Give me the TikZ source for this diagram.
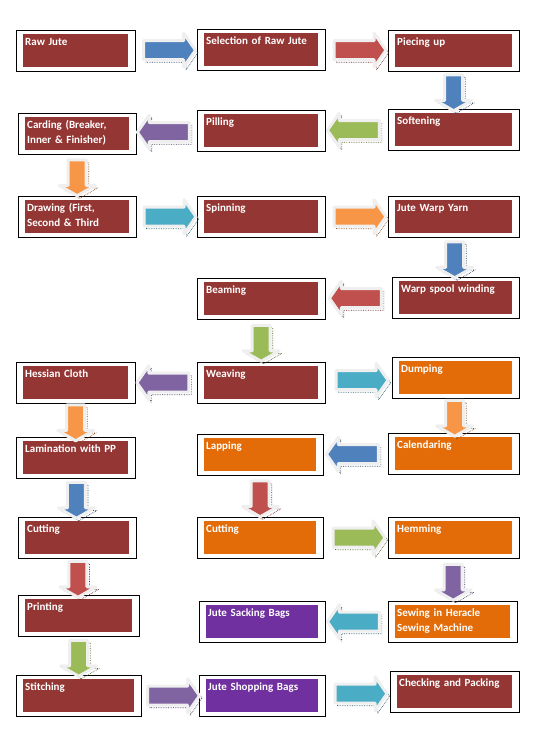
\documentclass[tikz,border=0pt]{standalone}
\usepackage{fontspec}
\setmainfont{Carlito}
\usepackage{tikz}
\usetikzlibrary{shapes.arrows,shadows,fit,calc}

\definecolor{boxred}{HTML}{943634}
\definecolor{boxorange}{HTML}{E36C09}
\definecolor{boxpurple}{HTML}{7030A0}
\definecolor{arblue}{HTML}{4F81BD}
\definecolor{arred}{HTML}{C0504D}
\definecolor{argreen}{HTML}{9BBB59}
\definecolor{arpurple}{HTML}{8064A2}
\definecolor{arcyan}{HTML}{4BACC6}
\definecolor{arorange}{HTML}{F79646}
\definecolor{glow}{HTML}{EFEFEF}

\begin{document}
\begin{tikzpicture}[x=1pt, y=-1pt,
    stage/.style={anchor=north west, fill=#1, text=white, align=left,
      font=\bfseries\fontsize{11}{15}\selectfont, inner xsep=2pt, inner ysep=2pt,
      text height=9pt, text depth=20pt},
    frame/.style={draw=black, line width=0.8pt, inner xsep=6.5pt, inner ysep=4pt},
    flow/.style={single arrow, draw=glow, line width=3pt, line join=round, fill=#1,
      general shadow={shadow xshift=2.5pt, shadow yshift=-2.5pt, draw=#1!55!black,
        densely dotted, line width=0.7pt}},
    rflow/.style={flow=#1, inner sep=8pt, minimum height=52pt,
      single arrow head extend=7.5pt, single arrow tip angle=110},
    lflow/.style={rflow=#1, shape border rotate=180},
    dflow/.style={flow=#1, inner sep=7.5pt, minimum height=36pt,
      single arrow head extend=9pt, single arrow tip angle=120,
      shape border rotate=270}]
  \useasboundingbox (0,0) rectangle (541,751);

  \node[stage=boxred, text width=101pt] (raw) at (23,34) {Raw Jute};
  \node[stage=boxred, text width=110pt] (sel) at (204,33) {Selection of Raw Jute};
  \node[stage=boxred, text width=113pt] (piece) at (395,34) {Piecing up};
  \node[stage=boxred, text width=113pt] (soft) at (395,113) {Softening};
  \node[stage=boxred, text width=110pt] (pill) at (204,114) {Pilling};
  \node[stage=boxred, text width=100pt] (card) at (25,117) {Carding (Breaker,\\Inner \& Finisher)};
  \node[stage=boxred, text width=100pt] (drw) at (25,200) {Drawing (First,\\Second \& Third};
  \node[stage=boxred, text width=110pt] (spin) at (204,200) {Spinning};
  \node[stage=boxred, text width=113pt] (warp) at (395,200) {Jute Warp Yarn};
  \node[stage=boxred, text width=109pt] (spool) at (399,281) {Warp spool winding};
  \node[stage=boxred, text width=110pt] (beam) at (204,282) {Beaming};
  \node[stage=boxred, text width=110pt] (weave) at (204,366) {Weaving};
  \node[stage=boxred, text width=101pt] (hess) at (23,366) {Hessian Cloth};
  \node[stage=boxorange, text width=109pt] (dump) at (399,361) {Dumping};
  \node[stage=boxorange, text width=113pt] (cal) at (395,437) {Calendaring};
  \node[stage=boxorange, text width=108pt] (lap) at (204,438) {Lapping};
  \node[stage=boxred, text width=101pt] (lam) at (23,441) {Lamination with PP};
  \node[stage=boxred, text width=100pt] (cutl) at (25,521) {Cutting};
  \node[stage=boxorange, text width=108pt] (cutm) at (204,521) {Cutting};
  \node[stage=boxorange, text width=113pt] (hem) at (395,521) {Hemming};
  \node[stage=boxorange, text width=111pt] (sew) at (395,605) {Sewing in Heracle\\Sewing Machine};
  \node[stage=boxpurple, text width=108pt] (sack) at (206,605) {Jute Sacking Bags};
  \node[stage=boxred, text width=103pt] (print) at (25,599) {Printing};
  \node[stage=boxred, text width=107pt] (stitch) at (23,679) {Stitching};
  \node[stage=boxpurple, text width=108pt] (shop) at (206,679) {Jute Shopping Bags};
  \node[stage=boxred, text width=111pt] (check) at (397,675) {Checking and Packing};

  \foreach \n in {raw,sel,piece,soft,pill,card,drw,spin,warp,spool,beam,weave,hess,
      dump,cal,lap,lam,cutl,cutm,hem,sew,sack,print,stitch,shop,check}
    \node[frame, fit=(\n)] (\n-f) {};

  \node[rflow=arblue] (a1) at ($(raw-f.east)!.5!(sel-f.west)$) {};
  \node[rflow=arred] (a2) at ($(sel-f.east)!.5!(piece-f.west)$) {};
  \node[dflow=arblue] (a3) at ($(piece-f.south)!.5!(soft-f.north)$) {};
  \node[lflow=argreen] (a4) at ($(soft-f.west)!.5!(pill-f.east)$) {};
  \node[lflow=arpurple] (a5) at ($(pill-f.west)!.5!(card-f.east)$) {};
  \node[dflow=arorange] (a6) at ($(card-f.south)!.5!(drw-f.north)$) {};
  \node[rflow=arcyan] (a7) at ($(drw-f.east)!.5!(spin-f.west)$) {};
  \node[rflow=arorange] (a8) at ($(spin-f.east)!.5!(warp-f.west)$) {};
  \node[dflow=arblue] (a9) at ($(warp-f.south)!.5!(spool-f.north)$) {};
  \node[lflow=arred] (a10) at ($(spool-f.west)!.5!(beam-f.east)$) {};
  \node[dflow=argreen] (a11) at ($(beam-f.south)!.5!(weave-f.north)$) {};
  \node[lflow=arpurple] (a12) at ($(weave-f.west)!.5!(hess-f.east)$) {};
  \node[rflow=arcyan] (a13) at ($(weave-f.east)!.5!(dump-f.west)$) {};
  \node[dflow=arorange] (a14) at ($(hess-f.south)!.5!(lam-f.north)$) {};
  \node[dflow=arorange] (a15) at ($(dump-f.south)!.5!(cal-f.north)$) {};
  \node[lflow=arblue] (a16) at ($(cal-f.west)!.5!(lap-f.east)$) {};
  \node[dflow=arblue] (a17) at ($(lam-f.south)!.5!(cutl-f.north)$) {};
  \node[dflow=arred] (a18) at ($(lap-f.south)!.5!(cutm-f.north)$) {};
  \node[rflow=argreen] (a19) at ($(cutm-f.east)!.5!(hem-f.west)$) {};
  \node[dflow=arred] (a20) at ($(cutl-f.south)!.5!(print-f.north)$) {};
  \node[dflow=arpurple] (a21) at ($(hem-f.south)!.5!(sew-f.north)$) {};
  \node[lflow=arcyan] (a22) at ($(sew-f.west)!.5!(sack-f.east)$) {};
  \node[dflow=argreen] (a23) at ($(print-f.south)!.5!(stitch-f.north)$) {};
  \node[rflow=arpurple] (a24) at ($(stitch-f.east)!.5!(shop-f.west)$) {};
  \node[rflow=arcyan] (a25) at ($(shop-f.east)!.5!(check-f.west)$) {};
\end{tikzpicture}
\end{document}
